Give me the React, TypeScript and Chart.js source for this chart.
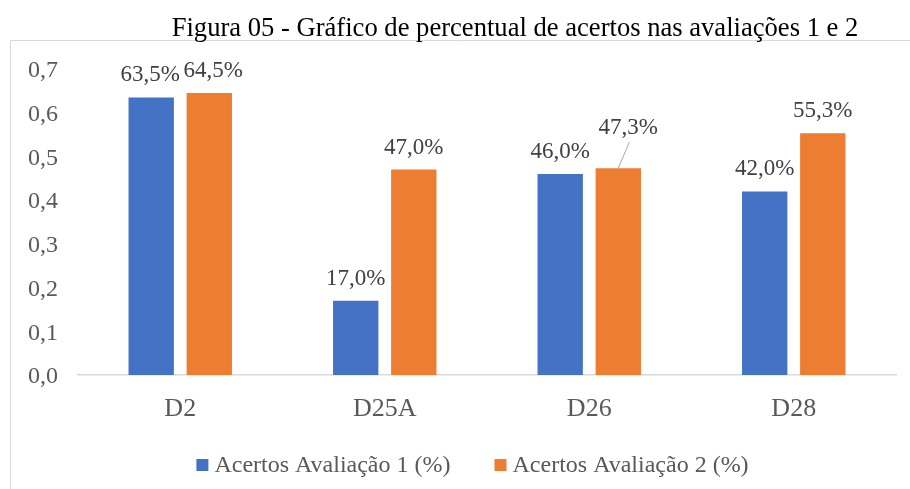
import React, { useEffect, useRef } from "react";
import { Chart, registerables } from "chart.js";

Chart.register(...registerables);

const titleText = "Figura 05 - Gráfico de percentual de acertos nas avaliações 1 e 2";
const categories = ["D2", "D25A", "D26", "D28"];
const seriesNames = ["Acertos Avaliação 1 (%)", "Acertos Avaliação 2 (%)"];
const avaliacao1 = [0.635, 0.17, 0.46, 0.42];
const avaliacao2 = [0.645, 0.47, 0.473, 0.553];
const seriesColors = ["#4472C4", "#ED7D31"];
const yMin = 0;
const yMax = 0.7;
const yStep = 0.1;

const FONT = '"Liberation Serif", "Times New Roman", serif';

const fmtTick = (v: number) => v.toFixed(1).replace(".", ",");
const fmtPct = (v: number) => (v * 100).toFixed(1).replace(".", ",") + "%";

const decorPlugin = {
  id: "decor",
  beforeDraw(chart: any) {
    const ctx = chart.ctx;
    ctx.save();
    ctx.strokeStyle = "#d9d9d9";
    ctx.lineWidth = 1;
    ctx.beginPath();
    ctx.moveTo(10.5, chart.height + 5);
    ctx.lineTo(10.5, 40.5);
    ctx.lineTo(chart.width + 5, 40.5);
    ctx.stroke();
    ctx.restore();
  },
  afterDatasetsDraw(chart: any) {
    const ctx = chart.ctx;
    ctx.save();
    ctx.font = `23px ${FONT}`;
    ctx.fillStyle = "#404040";
    ctx.textAlign = "center";
    ctx.textBaseline = "alphabetic";
    chart.data.datasets.forEach((ds: any, di: number) => {
      const meta = chart.getDatasetMeta(di);
      meta.data.forEach((bar: any, i: number) => {
        const v = ds.data[i];
        const text = fmtPct(v);
        if (di === 1 && i === 2) {
          // callout label with leader line
          const lx = bar.x + 10;
          const ly = bar.y - 34;
          ctx.fillText(text, lx, ly);
          ctx.save();
          ctx.strokeStyle = "#a6a6a6";
          ctx.lineWidth = 1;
          ctx.beginPath();
          ctx.moveTo(bar.x + 11, ly + 8);
          ctx.lineTo(bar.x, bar.y);
          ctx.stroke();
          ctx.restore();
        } else {
          let dx = 0;
          if (i === 0) dx = di === 0 ? -1 : 4;
          ctx.fillText(text, bar.x + dx, bar.y - 16);
        }
      });
    });
    ctx.restore();
  },
  afterDraw(chart: any) {
    const ctx = chart.ctx;
    ctx.save();
    ctx.font = `26.6px ${FONT}`;
    ctx.fillStyle = "#000000";
    ctx.textAlign = "center";
    ctx.textBaseline = "alphabetic";
    ctx.fillText(titleText, 515, 35.5);
    ctx.font = `24px ${FONT}`;
    const box = 12;
    const gapText = 6;
    const gapItem = 44;
    const widths = seriesNames.map((n) => ctx.measureText(n).width);
    const total = widths.reduce((a, w) => a + box + gapText + w, 0) + gapItem * (seriesNames.length - 1);
    let x = 472.5 - total / 2;
    const boxTop = 459;
    const baseline = 472;
    ctx.textAlign = "left";
    seriesNames.forEach((n, i) => {
      ctx.fillStyle = seriesColors[i];
      ctx.fillRect(x, boxTop, box, box);
      x += box + gapText;
      ctx.fillStyle = "#595959";
      ctx.fillText(n, x, baseline);
      x += widths[i] + gapItem;
    });
    ctx.restore();
  },
};

export default function App() {
  const ref = useRef<HTMLCanvasElement | null>(null);
  useEffect(() => {
    document.body.style.margin = "0";
    const canvas = ref.current;
    if (!canvas) return;
    const chart = new Chart(canvas, {
      type: "bar",
      data: {
        labels: categories,
        datasets: [
          {
            label: seriesNames[0],
            data: avaliacao1,
            backgroundColor: seriesColors[0],
            categoryPercentage: 0.568,
            barPercentage: 0.781,
          },
          {
            label: seriesNames[1],
            data: avaliacao2,
            backgroundColor: seriesColors[1],
            categoryPercentage: 0.568,
            barPercentage: 0.781,
          },
        ],
      },
      options: {
        responsive: false,
        animation: false,
        layout: { padding: { top: 69, left: 0, right: 14, bottom: 66 } },
        plugins: {
          legend: { display: false },
          title: { display: false },
          tooltip: { enabled: false },
        },
        scales: {
          x: {
            grid: { display: false, drawTicks: false },
            border: { display: true, color: "#d9d9d9", width: 1.5 },
            ticks: {
              color: "#595959",
              font: { family: FONT, size: 26 },
              padding: 19,
            },
            afterFit(scale: any) {
              scale.height = 48;
            },
          },
          y: {
            min: yMin,
            max: yMax,
            grid: { display: false, drawTicks: false },
            border: { display: false },
            ticks: {
              stepSize: yStep,
              color: "#595959",
              font: { family: FONT, size: 24 },
              padding: 20,
              labelOffset: 2,
              callback: (v: any) => fmtTick(Number(v)),
            },
            afterFit(scale: any) {
              scale.width = 78;
            },
          },
        },
      },
      plugins: [decorPlugin],
    });
    return () => chart.destroy();
  }, []);
  return (
    <div style={{ position: "absolute", left: 0, top: 0, width: 910, height: 489, background: "#fff" }}>
      <canvas ref={ref} width={910} height={489} />
    </div>
  );
}
